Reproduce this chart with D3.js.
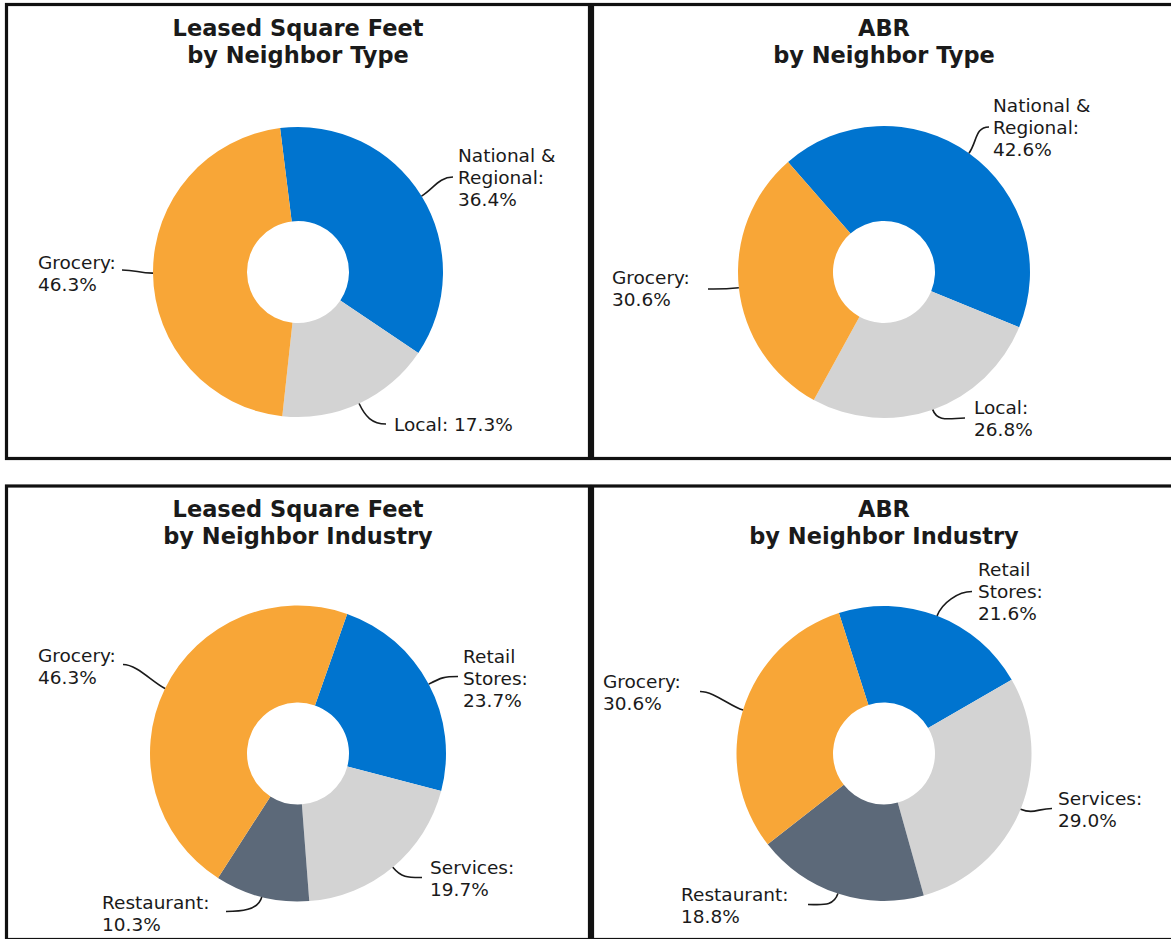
<!DOCTYPE html>
<html>
    <head>
        <meta charset="UTF-8">
        <script src="https://cdn.jsdelivr.net/npm/d3@7"></script>
        <title>Neighbor Mix</title>
        <style>
            body { margin: 0; background: #fff; }
            text { font-family: "DejaVu Sans", Verdana, sans-serif; fill: #1a1a1a; }
        </style>
    </head>
    <body>
        <div id="ChartContainer"></div>
    </body>
    <script>
        // values (percent)
        const typeCategories = ["National & Regional", "Local", "Grocery"]
        const sqftByType = [36.4, 17.3, 46.3]
        const abrByType = [42.6, 26.8, 30.6]

        const industryCategories = ["Retail Stores", "Services", "Restaurant", "Grocery"]
        const sqftByIndustry = [23.7, 19.7, 10.3, 46.3]
        const abrByIndustry = [21.6, 29.0, 18.8, 30.6]

        // how each category name breaks over lines in its label
        const typeLabelLines = [["National &", "Regional:"], ["Local:"], ["Grocery:"]]
        const industryLabelLines = [["Retail", "Stores:"], ["Services:"], ["Restaurant:"], ["Grocery:"]]

        const width = 1171
        const height = 939
        const panelW = 583
        const panelH = 454

        const colors = {
            "National & Regional": "#0074cf",
            "Retail Stores": "#0074cf",
            "Local": "#d3d3d3",
            "Services": "#d3d3d3",
            "Grocery": "#f8a637",
            "Restaurant": "#5c6979"
        }

        // label placement relative to the donut centre: t = text start, e = leader end
        const panels = [
            {
                x: 6.5, y: 4.5, h: panelH,
                title: ["Leased Square Feet", "by Neighbor Type"],
                cats: typeCategories, values: sqftByType, lines: typeLabelLines,
                start: -7.1, r: 145,
                labels: [
                    { t: [160, -110], e: [155, -95] },
                    { t: [96, 159], e: [88, 152], inline: true },
                    { t: [-260, -3], e: [-176, -2] }
                ]
            },
            {
                x: 592.5, y: 4.5, h: panelH,
                title: ["ABR", "by Neighbor Type"],
                cats: typeCategories, values: abrByType, lines: typeLabelLines,
                start: -41.1, r: 146,
                labels: [
                    { t: [109, -160], e: [105, -145] },
                    { t: [90, 142], e: [81, 146] },
                    { t: [-272, 12], e: [-176, 17] }
                ]
            },
            {
                x: 6.5, y: 486, h: 453.5,
                title: ["Leased Square Feet", "by Neighbor Industry"],
                cats: industryCategories, values: sqftByIndustry, lines: industryLabelLines,
                start: 19.4, r: 148,
                labels: [
                    { t: [165, -91], e: [160, -77] },
                    { t: [132, 120], e: [124, 124] },
                    { t: [-196, 155], e: [-72, 158] },
                    { t: [-260, -92], e: [-175, -89] }
                ]
            },
            {
                x: 592.5, y: 486, h: 453.5,
                title: ["ABR", "by Neighbor Industry"],
                cats: industryCategories, values: abrByIndustry, lines: industryLabelLines,
                start: -17.8, r: 147.5,
                labels: [
                    { t: [94, -178], e: [88, -162] },
                    { t: [174, 51], e: [168, 55] },
                    { t: [-203, 147], e: [-76, 151] },
                    { t: [-281, -66], e: [-184, -62] }
                ]
            }
        ]

        const svg = d3.select("#ChartContainer")
            .append("svg")
            .attr("width", width)
            .attr("height", height)

        const rad = deg => deg * Math.PI / 180

        panels.forEach(p => {
            const g = svg.append("g")
                .attr("transform", "translate(" + p.x + "," + p.y + ")")

            g.append("rect")
                .attr("width", panelW)
                .attr("height", p.h)
                .attr("fill", "none")
                .attr("stroke", "#111")
                .attr("stroke-width", 3.2)

            g.append("text")
                .attr("x", panelW / 2)
                .attr("y", 31)
                .attr("text-anchor", "middle")
                .style("font-size", "22.5px")
                .style("font-weight", "bold")
                .selectAll("tspan")
                .data(p.title)
                .enter()
                .append("tspan")
                .attr("x", panelW / 2)
                .attr("dy", (d, i) => i === 0 ? 0 : 27)
                .text(d => d)

            const cx = panelW / 2
            const cy = 267.5
            const chart = g.append("g")
                .attr("transform", "translate(" + cx + "," + cy + ")")

            const pie = d3.pie()
                .sort(null)
                .value(d => d[1])
                .startAngle(rad(p.start))
                .endAngle(rad(p.start) + 2 * Math.PI)

            const pieData = pie(p.cats.map((c, i) => [c, p.values[i]]))

            const arc = d3.arc()
                .innerRadius(51)
                .outerRadius(p.r)

            chart.selectAll("path.slice")
                .data(pieData)
                .enter()
                .append("path")
                .attr("class", "slice")
                .attr("d", arc)
                .attr("fill", d => colors[d.data[0]])

            pieData.forEach((d, i) => {
                const lab = p.labels[i]
                const mid = (d.startAngle + d.endAngle) / 2
                const ux = Math.sin(mid)
                const uy = -Math.cos(mid)
                const x0 = ux * p.r
                const y0 = uy * p.r
                const [ex, ey] = lab.e
                const side = ex > x0 ? 1 : -1

                const path = d3.path()
                path.moveTo(x0, y0)
                path.bezierCurveTo(x0 + ux * 14, y0 + uy * 14, ex - side * 14, ey, ex, ey)
                chart.append("path")
                    .attr("d", path.toString())
                    .attr("fill", "none")
                    .attr("stroke", "#1a1a1a")
                    .attr("stroke-width", 1.6)

                const value = d.data[1].toFixed(1) + "%"
                let textLines = p.lines[i].slice()
                if (lab.inline) {
                    textLines[textLines.length - 1] += " " + value
                } else {
                    textLines.push(value)
                }

                chart.append("text")
                    .attr("x", lab.t[0])
                    .attr("y", lab.t[1])
                    .style("font-size", "18.5px")
                    .selectAll("tspan")
                    .data(textLines)
                    .enter()
                    .append("tspan")
                    .attr("x", lab.t[0])
                    .attr("dy", (t, j) => j === 0 ? 0 : 22)
                    .text(t => t)
            })
        })
    </script>
</html>
